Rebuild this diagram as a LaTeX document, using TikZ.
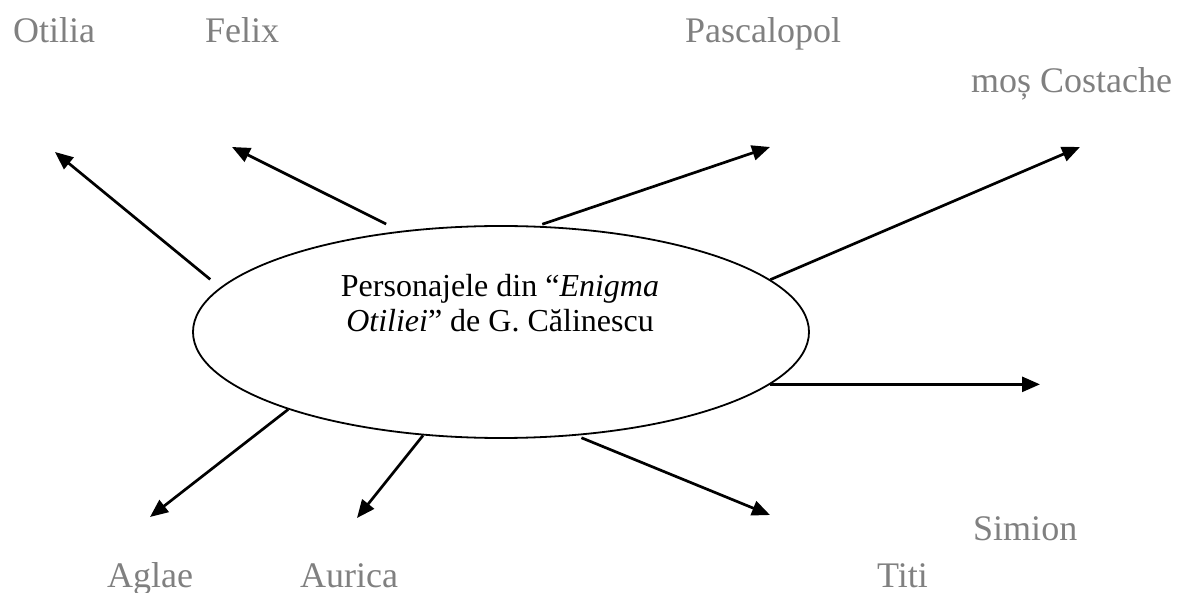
\documentclass[tikz,border=0pt]{standalone}
\usepackage{fontspec}
\setmainfont{Liberation Serif}
\usetikzlibrary{arrows.meta,shapes.geometric}
\definecolor{lbl}{HTML}{808080}
\begin{document}
\begin{tikzpicture}[x=1pt,y=-1pt,
  lblnode/.style={anchor=base west,inner sep=0pt,text=lbl,font=\fontsize{36}{40}\selectfont},
  conn/.style={line width=2.7pt,-{Triangle[length=18pt,width=15pt]}}]
\useasboundingbox (0,0) rectangle (1181,593);
\node[draw,ellipse,line width=1.8pt,minimum width=616pt,minimum height=212pt,inner sep=0pt] (e) at (501,332) {};
\node[align=center,inner sep=0pt,font=\fontsize{32}{35}\selectfont] (t) at (500,303) {Personajele din “\textit{Enigma}\\\textit{Otiliei}” de G. Călinescu};
\node[lblnode] (otilia) at (13,43) {Otilia};
\node[lblnode] (felix) at (205,43) {Felix};
\node[lblnode] (pasc) at (685,43) {Pascalopol};
\node[lblnode] (cost) at (971,93) {moș Costache};
\node[lblnode] (sim) at (973,540) {Simion};
\node[lblnode] (aglae) at (107,587) {Aglae};
\node[lblnode] (aurica) at (300,587) {Aurica};
\node[lblnode] (titi) at (877,587) {Titi};
\coordinate (a1) at (55,152);
\coordinate (a2) at (232,147);
\coordinate (a3) at (770,147);
\coordinate (a4) at (1080,147);
\coordinate (a5) at (1040,384);
\coordinate (a6) at (770,515);
\coordinate (a7) at (357,518);
\coordinate (a8) at (150,517);
\draw[conn,shorten <=12.8pt] (e.171.85) -- (a1);
\draw[conn,shorten <=15.5pt] (e.135.63) -- (a2);
\draw[conn,shorten <=5pt] (e.71.97) -- (a3);
\draw[conn] (e.11.0) -- (a4);
\draw[conn] (e.-11.2) -- (e.-11.2 -| a5);
\draw[conn,shorten <=5.5pt] (e.-54.3) -- (a6);
\draw[conn] (e.233.4) -- (a7);
\draw[conn] (e.200.7) -- (a8);
\end{tikzpicture}
\end{document}
